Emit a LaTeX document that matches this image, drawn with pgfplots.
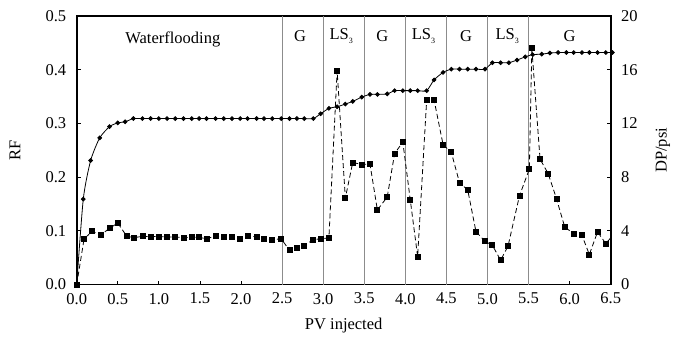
\documentclass[border=0pt]{standalone}
\usepackage{pgfplots}
\pgfplotsset{compat=1.18}
\usepackage{fontspec}
\setmainfont{Liberation Serif}

% small, low subscript used in the stage names
\newcommand{\lsthree}{LS\raisebox{-0.5ex}{\fontsize{8}{8}\selectfont 3}}

% Recovery factor (left axis)
\pgfplotstableread{
pv rf
0.00 0.000
0.08 0.159
0.17 0.231
0.28 0.273
0.40 0.294
0.50 0.301
0.59 0.303
0.69 0.309
0.80 0.309
0.90 0.309
1.00 0.309
1.10 0.309
1.20 0.309
1.30 0.309
1.40 0.309
1.49 0.309
1.58 0.309
1.69 0.309
1.79 0.309
1.89 0.309
1.99 0.309
2.08 0.309
2.19 0.309
2.28 0.309
2.38 0.309
2.49 0.309
2.59 0.309
2.68 0.309
2.77 0.309
2.88 0.309
2.97 0.318
3.07 0.328
3.17 0.331
3.27 0.336
3.36 0.341
3.47 0.349
3.57 0.354
3.66 0.354
3.78 0.355
3.87 0.361
3.97 0.361
4.06 0.361
4.15 0.361
4.26 0.361
4.35 0.381
4.46 0.395
4.56 0.401
4.66 0.401
4.76 0.401
4.86 0.401
4.97 0.401
5.06 0.413
5.16 0.413
5.26 0.413
5.36 0.418
5.46 0.424
5.55 0.428
5.66 0.429
5.76 0.431
5.86 0.432
5.96 0.432
6.05 0.432
6.15 0.432
6.24 0.432
6.34 0.432
6.44 0.432
6.52 0.432
}\rfdata

% Pressure drop (right axis)
\pgfplotstableread{
pv dp
0.00 0.00
0.09 3.40
0.19 3.97
0.29 3.67
0.40 4.19
0.50 4.58
0.61 3.59
0.70 3.49
0.80 3.59
0.90 3.57
1.00 3.57
1.10 3.54
1.20 3.54
1.30 3.49
1.40 3.52
1.49 3.52
1.58 3.40
1.69 3.62
1.79 3.52
1.89 3.54
1.99 3.40
2.08 3.59
2.19 3.57
2.28 3.42
2.38 3.35
2.49 3.40
2.59 2.55
2.68 2.75
2.77 2.90
2.88 3.35
2.97 3.40
3.07 3.47
3.17 15.91
3.27 6.44
3.36 9.09
3.47 8.94
3.57 8.97
3.66 5.55
3.78 6.52
3.87 9.76
3.97 10.61
4.06 6.32
4.15 2.08
4.26 13.75
4.35 13.75
4.46 10.41
4.56 9.84
4.66 7.58
4.76 7.04
4.86 3.94
4.97 3.22
5.06 2.92
5.16 1.81
5.25 2.85
5.39 6.62
5.51 8.60
5.54 17.60
5.64 9.34
5.74 8.25
5.84 6.39
5.94 4.29
6.05 3.77
6.15 3.67
6.24 2.23
6.34 3.92
6.44 3.05
6.51 3.54
}\dpdata

\begin{document}
\begin{tikzpicture}[font=\fontsize{16.5}{19}\selectfont]
\pgfplotsset{
  every axis/.append style={
    scale only axis,
    width=534pt, height=268.5pt,
    at={(0,0)}, anchor=south west,
    xmin=0, xmax=6.5,
    axis line style={line width=1.7pt, black},
    tick style={line width=0.8pt, black},
    major tick length=4pt,
    tick align=inside,
    /pgf/number format/assume math mode=true,
  },
}
\begin{axis}[
  ymin=0, ymax=0.5,
  xtick={0,0.5,...,6.5},
  ytick={0,0.1,...,0.5},
  xtick pos=bottom, ytick pos=left,
  x tick label style={/pgf/number format/fixed, /pgf/number format/fixed zerofill,
    /pgf/number format/precision=1, yshift=-5pt},
  y tick label style={/pgf/number format/fixed, /pgf/number format/fixed zerofill,
    /pgf/number format/precision=1, xshift=-7pt},
  xlabel={PV injected},
  ylabel={RF},
  xlabel style={at={(axis description cs:0.5,-0.151)}, anchor=center},
  ylabel style={at={(axis description cs:-0.1155,0.5)}, anchor=center},
  clip=false,
]
  % stage boundaries
  \pgfplotsinvokeforeach{2.5,3.0,3.5,4.0,4.5,5.0,5.5}{
    \draw[black!45, line width=0.9pt] (axis cs:#1,0) -- (axis cs:#1,0.5);
  }
  % stage names
  \node at (axis cs:1.17,0.457) {Waterflooding};
  \node at (axis cs:2.72,0.463) {G};
  \node at (axis cs:3.22,0.463) {\lsthree};
  \node at (axis cs:3.72,0.463) {G};
  \node at (axis cs:4.22,0.463) {\lsthree};
  \node at (axis cs:4.74,0.463) {G};
  \node at (axis cs:5.24,0.463) {\lsthree};
  \node at (axis cs:6.00,0.463) {G};

  \addplot[black, line width=0.8pt, smooth, tension=0.4,
    mark=*, mark size=1.9pt, mark options={solid}] table[x=pv, y=rf] {\rfdata};
\end{axis}

\begin{axis}[
  ymin=0, ymax=20,
  ytick={0,4,...,20},
  axis y line*=right,
  axis x line=none,
  ytick pos=right,
  y tick label style={xshift=7pt},
  ylabel={DP/psi},
  ylabel style={at={(axis description cs:1.098,0.5)}, anchor=center},
]
  \addplot[black, line width=0.8pt, dash pattern=on 5pt off 3pt,
    mark=square*, mark size=2.5pt, mark options={solid}] table[x=pv, y=dp] {\dpdata};
\end{axis}

\pgfresetboundingbox
\path[use as bounding box] (-76.7pt,-56.5pt) rectangle (596.3pt,284.5pt);
\end{tikzpicture}
\end{document}
